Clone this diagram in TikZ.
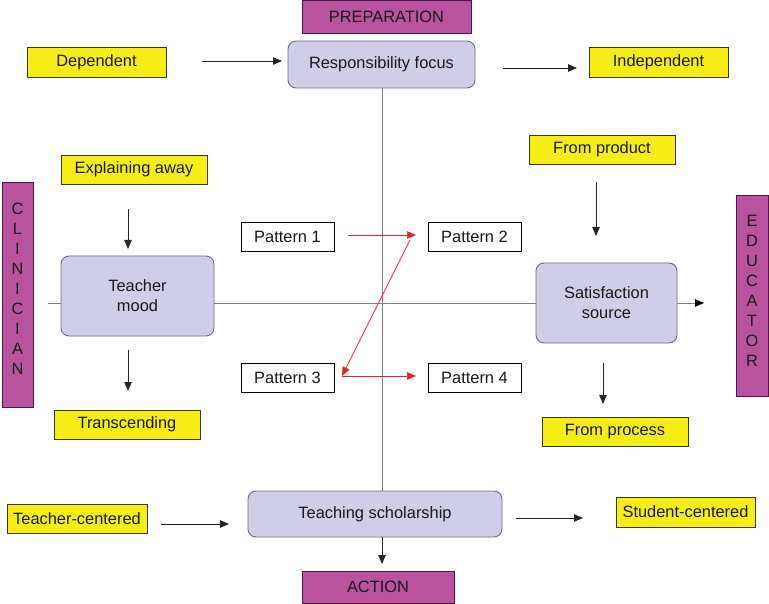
\documentclass[tikz,border=0pt]{standalone}
\usepackage{fontspec}
\setmainfont{Liberation Sans}
\usetikzlibrary{arrows.meta}
\definecolor{mag}{HTML}{B9529F}
\definecolor{magline}{HTML}{4A1A42}
\definecolor{yel}{HTML}{F6ED17}
\definecolor{yelline}{HTML}{3A3A10}
\definecolor{lav}{HTML}{CFCDE7}
\definecolor{lavline}{HTML}{6E6E7E}
\definecolor{redarr}{HTML}{E4232B}
\definecolor{axisgray}{HTML}{808080}
\tikzset{
  txt/.style={font=\fontsize{16.4}{20}\selectfont, inner sep=0pt, align=center, text=black!90},
  magbox/.style={txt, draw=magline, fill=mag, line width=0.9pt},
  yelbox/.style={txt, draw=yelline, fill=yel, line width=0.9pt, minimum width=146pt, minimum height=29pt},
  lavbox/.style={txt, draw=lavline, fill=lav, line width=0.9pt, rounded corners=8pt},
  patbox/.style={txt, draw=black, fill=white, line width=0.9pt, minimum width=93pt, minimum height=29pt},
  arr/.style={draw=black!85, line width=0.8pt, -{Triangle[length=9pt,width=7.5pt]}},
  redar/.style={draw=redarr, line width=0.7pt, -{Triangle[length=9pt,width=7.5pt]}},
  axis/.style={draw=axisgray, line width=0.9pt}
}
\begin{document}
\begin{tikzpicture}[x=1pt,y=-1pt]
\useasboundingbox (0,0) rectangle (769,604);
% axes (behind)
\coordinate (hl) at (48,303);
\coordinate (hr) at (704,303);
\draw[axis, -{Triangle[length=9pt,width=7.5pt,color=black]}] (hl) -- (hr);
% nodes
\node[magbox, minimum width=169pt, minimum height=33pt] (prep) at (386.5,16.5) {PREPARATION};
\node[lavbox, minimum width=187pt, minimum height=47pt] (resp) at (381.5,64.5) {Responsibility focus};
\node[yelbox, minimum width=139pt, minimum height=30pt] (dep) at (96.5,62) {Dependent};
\node[yelbox, minimum width=139pt, minimum height=30pt] (indep) at (658.5,62) {Independent};
\node[yelbox] (expl) at (134,169.5) {Explaining away};
\node[yelbox] (prod) at (602,149.5) {From product};
\node[magbox, minimum width=31pt, minimum height=225pt,
  label={[txt, yshift=6pt]center:C\\L\\I\\N\\I\\C\\I\\A\\N}] (clin) at (17.5,294.5) {};
\node[magbox, minimum width=32pt, minimum height=201pt,
  label={[txt, yshift=5pt]center:E\\D\\U\\C\\A\\T\\O\\R}] (educ) at (752,295.5) {};
\node[lavbox, minimum width=153pt, minimum height=80pt] (mood) at (137.5,296) {Teacher\\mood};
\node[lavbox, minimum width=141pt, minimum height=80pt] (sat) at (606.5,303) {Satisfaction\\source};
\node[patbox] (p1) at (287.5,236.5) {Pattern 1};
\node[patbox] (p2) at (474.5,236.5) {Pattern 2};
\node[patbox] (p3) at (287.5,377.5) {Pattern 3};
\node[patbox] (p4) at (474.5,377.5) {Pattern 4};
\node[yelbox] (trans) at (127,424.5) {Transcending};
\node[yelbox] (proc) at (615,431.5) {From process};
\node[yelbox, minimum width=140pt] (tc) at (77,518.5) {Teacher-centered};
\node[lavbox, minimum width=254pt, minimum height=46pt] (ts) at (375,514) {Teaching scholarship};
\node[yelbox, minimum width=139pt, minimum height=30pt] (sc) at (685.5,512) {Student-centered};
\node[magbox, minimum width=152pt, minimum height=32pt] (act) at (378,587) {ACTION};
% vertical axis
\coordinate (vt) at (382,88);
\coordinate (vb) at (382,491);
\draw[axis] (vt) -- (vb);
\coordinate (vs) at (382,537);
\coordinate (ve) at (382,564);
\draw[arr] (vs) -- (ve);
% black arrows
\coordinate (a1s) at (202,61);  \coordinate (a1e) at (282,61);
\coordinate (a2s) at (503,68);  \coordinate (a2e) at (577,68);
\coordinate (a3s) at (128,209); \coordinate (a3e) at (128,249);
\coordinate (a4s) at (128,350); \coordinate (a4e) at (128,391);
\coordinate (a5s) at (596,182); \coordinate (a5e) at (596,236);
\coordinate (a6s) at (603,363); \coordinate (a6e) at (603,404);
\coordinate (a7s) at (161,524); \coordinate (a7e) at (229,524);
\coordinate (a8s) at (516,518); \coordinate (a8e) at (583,518);
\draw[arr] (a1s) -- (a1e);
\draw[arr] (a2s) -- (a2e);
\draw[arr] (a3s) -- (a3e);
\draw[arr] (a4s) -- (a4e);
\draw[arr] (a5s) -- (a5e);
\draw[arr] (a6s) -- (a6e);
\draw[arr] (a7s) -- (a7e);
\draw[arr] (a8s) -- (a8e);
% red arrows
\coordinate (r1s) at (348,235); \coordinate (r1e) at (416,235);
\coordinate (r2s) at (410,240); \coordinate (r2e) at (342,376);
\coordinate (r3s) at (342,376); \coordinate (r3e) at (416,376);
\draw[redar] (r1s) -- (r1e);
\draw[redar] (r2s) -- (r2e);
\draw[redar] (r3s) -- (r3e);
\end{tikzpicture}
\end{document}
